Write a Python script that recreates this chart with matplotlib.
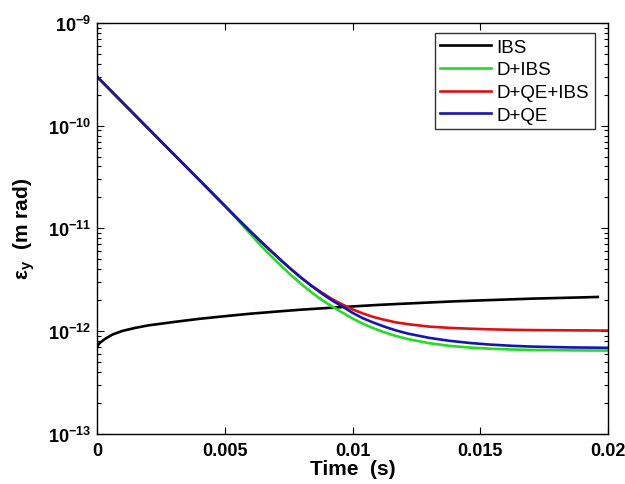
import matplotlib
matplotlib.use("Agg")
import matplotlib.pyplot as plt
from matplotlib.ticker import FixedLocator, LogLocator, NullFormatter

plt.rcParams['font.family'] = ['Liberation Sans', 'DejaVu Sans']
plt.rcParams['mathtext.fontset'] = 'custom'
plt.rcParams['mathtext.rm'] = 'Liberation Sans'
plt.rcParams['mathtext.bf'] = 'Liberation Sans:bold'

# ---- data ----
t_ibs = [0, 0.0001, 0.0003, 0.0006, 0.001, 0.0015, 0.002, 0.003, 0.004, 0.005,
         0.006, 0.007, 0.008, 0.009, 0.010, 0.011, 0.012, 0.013, 0.014, 0.015,
         0.016, 0.017, 0.018, 0.019, 0.0196]
eps_ibs = [7.0e-13, 7.6e-13, 8.3e-13, 9.2e-13, 1.0e-12, 1.07e-12, 1.13e-12, 1.22e-12,
           1.31e-12, 1.39e-12, 1.47e-12, 1.54e-12, 1.61e-12, 1.67e-12, 1.73e-12,
           1.79e-12, 1.84e-12, 1.89e-12, 1.94e-12, 1.98e-12, 2.02e-12, 2.06e-12,
           2.09e-12, 2.12e-12, 2.14e-12]

t_cool = [0, 0.002, 0.004, 0.005, 0.0055, 0.0060, 0.0064, 0.0068, 0.0072, 0.0076,
          0.0080, 0.0084, 0.0088, 0.0092, 0.0096, 0.0100, 0.0104, 0.0108, 0.0112,
          0.0117, 0.0122, 0.0130, 0.0138, 0.0146, 0.0154, 0.0162, 0.0170, 0.0185,
          0.0200]
eps_d_ibs = [3.0e-10, 9.4e-11, 2.96e-11, 1.656e-11, 1.216e-11, 8.81e-12, 6.84e-12,
             5.40e-12, 4.32e-12, 3.48e-12, 2.85e-12, 2.37e-12, 2.00e-12, 1.73e-12,
             1.51e-12, 1.32e-12, 1.175e-12, 1.064e-12, 9.77e-13, 8.91e-13, 8.28e-13,
             7.59e-13, 7.14e-13, 6.87e-13, 6.70e-13, 6.59e-13, 6.52e-13, 6.46e-13,
             6.43e-13]
eps_d_qe_ibs = [3.0e-10, 9.4e-11, 2.96e-11, 1.656e-11, 1.239e-11, 9.33e-12, 7.48e-12,
                6.03e-12, 4.88e-12, 3.98e-12, 3.28e-12, 2.75e-12, 2.36e-12, 2.04e-12,
                1.81e-12, 1.62e-12, 1.48e-12, 1.37e-12, 1.29e-12, 1.21e-12, 1.16e-12,
                1.10e-12, 1.07e-12, 1.05e-12, 1.035e-12, 1.025e-12, 1.018e-12,
                1.012e-12, 1.007e-12]
eps_d_qe = [3.0e-10, 9.4e-11, 2.96e-11, 1.656e-11, 1.239e-11, 9.33e-12, 7.48e-12,
            6.03e-12, 4.88e-12, 3.98e-12, 3.28e-12, 2.74e-12, 2.31e-12, 1.98e-12,
            1.73e-12, 1.50e-12, 1.33e-12, 1.21e-12, 1.11e-12, 1.01e-12, 9.37e-13,
            8.55e-13, 8.0e-13, 7.62e-13, 7.35e-13, 7.16e-13, 7.03e-13, 6.90e-13,
            6.84e-13]

labels = ['IBS', 'D+IBS', 'D+QE+IBS', 'D+QE']
colors = ['#000000', '#22dd22', '#dd1111', '#1515b0']
x_ticks = [0, 0.005, 0.01, 0.015, 0.02]
x_ticklabels = ['0', '0.005', '0.01', '0.015', '0.02']
y_ticks = [1e-13, 1e-12, 1e-11, 1e-10, 1e-9]
y_ticklabels = [r'$\mathbf{10^{-13}}$', r'$\mathbf{10^{-12}}$', r'$\mathbf{10^{-11}}$',
                r'$\mathbf{10^{-10}}$', r'$\mathbf{10^{-9}}$']

fig = plt.figure(figsize=(6.25, 4.85), dpi=100)
ax = fig.add_axes([97 / 625, 1 - 434.5 / 485, 511 / 625, 410.5 / 485])

series = [(t_ibs, eps_ibs), (t_cool, eps_d_ibs), (t_cool, eps_d_qe_ibs), (t_cool, eps_d_qe)]
for (tt, ee), lab, c in zip(series, labels, colors):
    ax.plot(tt, ee, color=c, lw=1.9, label=lab)

ax.set_yscale('log')
ax.set_xlim(0, 0.02)
ax.set_ylim(1e-13, 1e-9)
ax.xaxis.set_major_locator(FixedLocator(x_ticks))
ax.set_xticklabels(x_ticklabels)
ax.yaxis.set_major_locator(FixedLocator(y_ticks))
ax.set_yticklabels(y_ticklabels)
ax.yaxis.set_minor_locator(LogLocator(base=10, subs=range(2, 10)))
ax.yaxis.set_minor_formatter(NullFormatter())

ax.tick_params(which='both', direction='in', top=True, right=True, labelsize=13,
               width=0.8)
ax.tick_params(axis='x', pad=6)
ax.tick_params(axis='y', pad=4)
ax.tick_params(which='major', length=5)
ax.tick_params(which='minor', length=3)
for lab in ax.get_xticklabels():
    lab.set_fontweight('bold')
for sp in ax.spines.values():
    sp.set_linewidth(1.0)

ax.set_xlabel('Time  (s)', fontsize=15, fontweight='bold', labelpad=0)
ax.set_ylabel(r'ε$_\mathbf{y}$  (m rad)', fontsize=15, fontweight='bold', labelpad=8)

leg = ax.legend(loc='upper right', bbox_to_anchor=(0.974, 0.976), fontsize=13.5,
                frameon=True, fancybox=False, edgecolor='black', handlelength=2.7,
                handletextpad=0.3, labelspacing=0.3, borderpad=0.3, borderaxespad=0)
leg.get_frame().set_linewidth(1.0)

fig.savefig('out.png', dpi=100)
